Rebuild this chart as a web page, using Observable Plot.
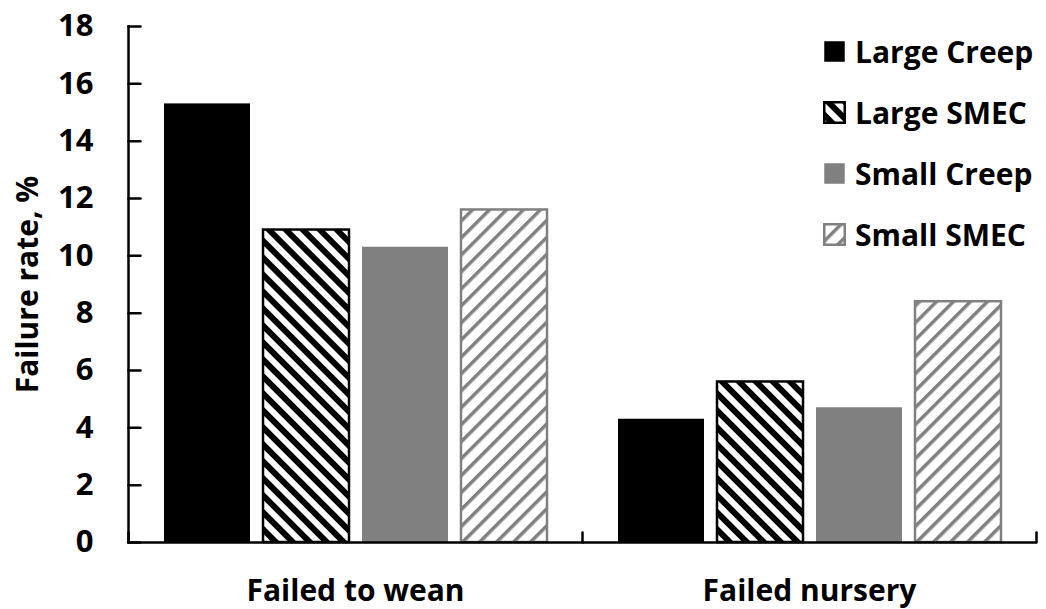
<!DOCTYPE html>
<html>
<head>
<meta charset="utf-8">
<script src="https://cdn.jsdelivr.net/npm/d3@7"></script>
<script src="https://cdn.jsdelivr.net/npm/@observablehq/plot@0.6"></script>
<style>
  body { margin: 0; background: #ffffff; }
  #chart { position: relative; width: 1046px; height: 609px; font-family: "Open Sans", sans-serif; }
  #legend { position: absolute; left: 823px; top: 21px; }
  #legend .row { display: flex; align-items: center; height: 61px; font-weight: bold; font-size: 30px; color: #000; white-space: nowrap; }
  #legend svg { margin-right: 9px; flex: none; }
</style>
</head>
<body>
<div id="chart"><div id="legend"></div></div>
<script>
// Failure rates (%) by outcome and treatment group
const categories = ["Failed to wean", "Failed nursery"];
const series = ["Large Creep", "Large SMEC", "Small Creep", "Small SMEC"];
const largeCreep = [15.3, 4.3];
const largeSmec = [10.9, 5.6];
const smallCreep = [10.3, 4.7];
const smallSmec = [11.6, 8.4];
const yTicks = [0, 2, 4, 6, 8, 10, 12, 14, 16, 18];
const yTitle = "Failure rate, %";

const seriesValues = [largeCreep, largeSmec, smallCreep, smallSmec];

// Solid fills for the creep groups, hatched fills for the SMEC groups
const seriesStyle = {
  "Large Creep": {fill: "#000000", stroke: "none"},
  "Large SMEC": {fill: "url(#hatch-black)", stroke: "#000000"},
  "Small Creep": {fill: "#808080", stroke: "none"},
  "Small SMEC": {fill: "url(#hatch-gray)", stroke: "#808080"}
};

const rows = [];
series.forEach((s, i) => {
  categories.forEach((c, j) => rows.push({category: c, series: s, value: seriesValues[i][j]}));
});

// The value-axis ticks live in the first facet only
const yTickRows = yTicks.map((v) => ({category: categories[0], value: v}));

// Short straight tick drawn from its anchor along the vector direction
const tickLine = {draw(context, l) { context.moveTo(0, 0); context.lineTo(0, -l); }};

const plot = Plot.plot({
  width: 1046,
  height: 609,
  marginLeft: 127,
  marginRight: 10,
  marginTop: 26,
  marginBottom: 67,
  style: {fontFamily: "'Open Sans', sans-serif", fontWeight: "bold", color: "#000000", background: "transparent"},
  fx: {domain: categories, padding: 0, label: null},
  x: {domain: series, paddingInner: 0.134, paddingOuter: 0.356, axis: null},
  y: {domain: [0, 18], label: null},
  marks: [
    ...series.map((s) => Plot.barY(rows.filter((d) => d.series === s), {
      fx: "category",
      x: "series",
      y: "value",
      fill: seriesStyle[s].fill,
      stroke: seriesStyle[s].stroke,
      strokeWidth: 2.5
    })),
    Plot.ruleY([0], {strokeWidth: 2.5}),
    Plot.frame({anchor: "left", facetAnchor: "left", strokeWidth: 2.5}),
    // inward ticks on the value axis
    Plot.vector(yTickRows, {fx: "category", y: "value", frameAnchor: "left", rotate: 90, length: 12, anchor: "start", shape: tickLine, stroke: "#000000", strokeWidth: 2.5}),
    // upward ticks at the category boundaries
    Plot.vector(categories, {fx: (d) => d, frameAnchor: "bottom-left", length: 10, anchor: "start", shape: tickLine, strokeWidth: 2.5}),
    Plot.vector(categories.slice(-1), {fx: (d) => d, frameAnchor: "bottom-right", length: 10, anchor: "start", shape: tickLine, strokeWidth: 2.5}),
    Plot.axisY({ticks: yTicks, tickSize: 0, tickPadding: 35, fontSize: 31, label: null}),
    Plot.axisFx({anchor: "bottom", tickSize: 0, tickPadding: 37, fontSize: 30, label: null}),
    Plot.text([yTitle], {frameAnchor: "left", facetAnchor: "left", rotate: -90, textAnchor: "middle", lineAnchor: "bottom", dx: -91, fontSize: 30, fontWeight: "bold"})
  ]
});

// Hatch patterns used by the SMEC bars and their legend swatches
const defs = d3.select(plot).insert("defs", ":first-child");
function hatch(id, color, stripe, angle) {
  const p = defs.append("pattern")
    .attr("id", id)
    .attr("patternUnits", "userSpaceOnUse")
    .attr("width", 12)
    .attr("height", 12)
    .attr("patternTransform", `rotate(${angle})`);
  p.append("rect").attr("width", 12).attr("height", 12).attr("fill", "#ffffff");
  p.append("rect").attr("width", stripe).attr("height", 12).attr("fill", color);
}
hatch("hatch-black", "#000000", 6, -45);
hatch("hatch-gray", "#808080", 3.5, 45);

const chart = document.getElementById("chart");
chart.insertBefore(plot, chart.firstChild);

// Legend in the upper right of the plot area
const legend = d3.select("#legend");
series.forEach((s) => {
  const row = legend.append("div").attr("class", "row");
  const sw = row.append("svg").attr("width", 23).attr("height", 23);
  sw.append("rect")
    .attr("x", 1.25).attr("y", 1.25).attr("width", 20.5).attr("height", 20.5)
    .attr("fill", seriesStyle[s].fill)
    .attr("stroke", seriesStyle[s].stroke)
    .attr("stroke-width", 2.5);
  row.append("span").text(s);
});
</script>
</body>
</html>
